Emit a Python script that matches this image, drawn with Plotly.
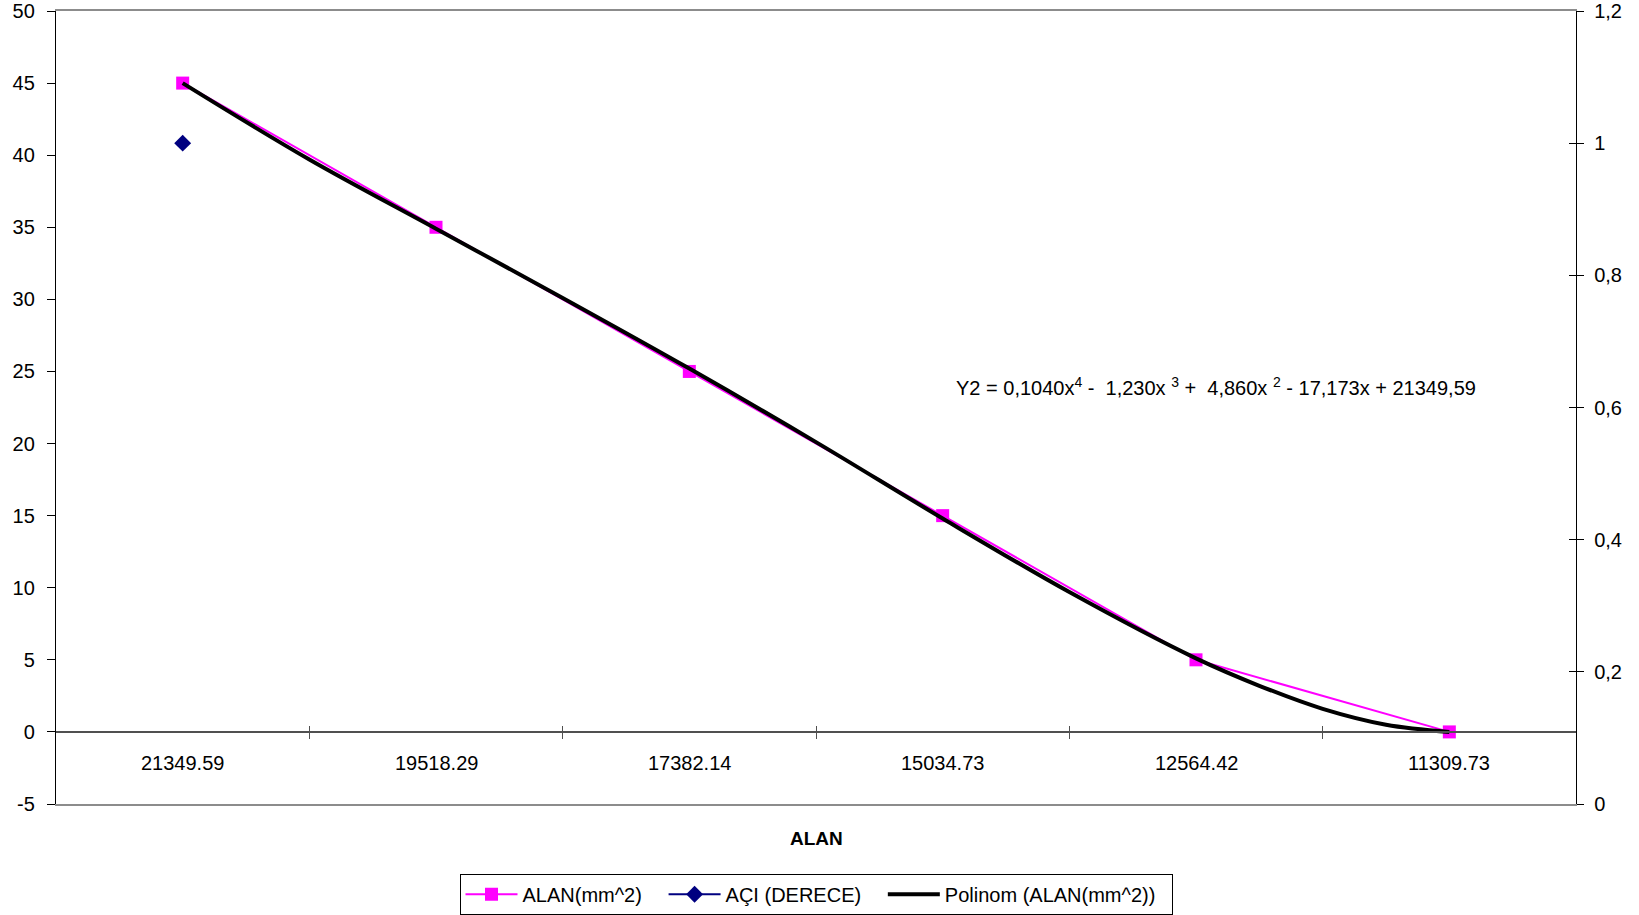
import plotly.graph_objects as go

# Category labels (x axis) and series values
categories = ["21349.59", "19518.29", "17382.14", "15034.73", "12564.42", "11309.73"]
alan = [45, 35, 25, 15, 5, 0]
aci = [1, None, None, None, None, None]

# Polynomial trendline sampled along the category positions
trend_x = [1, 1.5, 2, 2.5, 3, 3.5, 4, 4.5, 5, 5.25, 5.5, 5.75, 6]
trend_y = [45, 39.7, 34.9, 30.1, 25.2, 20.1, 14.8, 9.7, 5.1, 3.2, 1.6, 0.5, 0]

left_ticks = list(range(-5, 55, 5))
left_ticktext = [str(v) for v in left_ticks]
right_ticks = [0, 0.2, 0.4, 0.6, 0.8, 1.0, 1.2]
right_ticktext = ["0", "0,2", "0,4", "0,6", "0,8", "1", "1,2"]

pos = list(range(1, len(categories) + 1))
bounds = [p + 0.5 for p in pos[:-1]]

FONT = "Liberation Sans, Arial, sans-serif"
PAD = "&nbsp;" * 3  # extra room after each legend entry

fig = go.Figure()

fig.add_trace(go.Scatter(
    x=pos, y=alan, name="ALAN(mm^2)" + PAD, mode="lines+markers",
    line=dict(color="#FF00FF", width=2),
    marker=dict(symbol="square", size=13, color="#FF00FF"),
    xaxis="x", yaxis="y",
))
fig.add_trace(go.Scatter(
    x=pos, y=aci, name="AÇI (DERECE)" + PAD, mode="lines+markers",
    line=dict(color="#000080", width=2),
    marker=dict(symbol="diamond", size=13, color="#000080"),
    xaxis="x", yaxis="y2",
))
fig.add_trace(go.Scatter(
    x=trend_x, y=trend_y, name="Polinom (ALAN(mm^2))" + "&nbsp;" * 2, mode="lines",
    line=dict(color="black", width=4, shape="spline", smoothing=1.0),
    xaxis="x", yaxis="y",
))

# empty helper traces so the overlay axes (extra ticks, border) get drawn
for xa, ya in [("x2", "y"), ("x3", "y"), ("x", "y3")]:
    fig.add_trace(go.Scatter(x=[], y=[], xaxis=xa, yaxis=ya,
                             showlegend=False, hoverinfo="skip"))

xrange = [0.5, len(categories) + 0.5]
zero_pos = (0 - left_ticks[0]) / (left_ticks[-1] - left_ticks[0])

# category labels between the zero line and the bottom of the plot
annotations = [
    dict(x=p, y=-2.15, xref="x", yref="y", text=c, showarrow=False,
         font=dict(size=20, color="black", family=FONT))
    for p, c in zip(pos, categories)
]
annotations.append(dict(
    x=0.5, y=-0.044, xref="paper", yref="paper", text="<b>ALAN</b>",
    showarrow=False, yanchor="middle",
    font=dict(size=19, color="black", family=FONT)))
annotations.append(dict(
    x=0.591, y=0.526, xref="paper", yref="paper", xanchor="left", yanchor="middle",
    text="Y2 = 0,1040x<sup>4</sup> -&nbsp;&nbsp;1,230x <sup>3</sup> +&nbsp;&nbsp;4,860x <sup>2</sup> - 17,173x + 21349,59",
    showarrow=False, font=dict(size=20, color="black", family=FONT)))

fig.update_layout(
    width=1639, height=915,
    margin=dict(l=56, r=63, t=11, b=111, autoexpand=False),
    paper_bgcolor="white", plot_bgcolor="white",
    font=dict(family=FONT, size=20, color="black"),
    showlegend=True,
    legend=dict(
        orientation="h", x=0.5, xanchor="center", y=-0.088, yanchor="top",
        bordercolor="black", borderwidth=1, font=dict(size=20, family=FONT),
        bgcolor="white", itemwidth=52,
    ),
    annotations=annotations,
    # axis along y = 0 with boundary ticks below
    xaxis=dict(
        domain=[0, 1], range=xrange, anchor="free", position=zero_pos,
        showline=True, linecolor="#505050", linewidth=1.5,
        tickvals=bounds, ticks="outside", ticklen=6, tickcolor="#505050",
        tickwidth=1.2, showticklabels=False, showgrid=False, zeroline=False,
    ),
    # same boundary ticks drawn above the zero line
    xaxis2=dict(
        overlaying="x", range=xrange, anchor="free", position=zero_pos,
        showline=False, tickvals=bounds, ticks="inside", ticklen=6,
        tickcolor="#505050", tickwidth=1.2, showticklabels=False,
        showgrid=False, zeroline=False,
    ),
    # grey plot-area border (bottom and top)
    xaxis3=dict(
        overlaying="x", range=xrange, anchor="y", side="bottom",
        showline=True, linecolor="#8c8c8c", linewidth=2, mirror=True,
        ticks="", showticklabels=False, showgrid=False, zeroline=False,
    ),
    yaxis=dict(
        range=[left_ticks[0], left_ticks[-1]], tickvals=left_ticks,
        ticktext=left_ticktext,
        ticks="outside", ticklen=8, tickcolor="black", tickwidth=1.2,
        showline=True, linecolor="black", linewidth=1.3,
        showgrid=False, zeroline=False, anchor="x",
        tickfont=dict(size=20, color="black", family=FONT),
        ticklabelstandoff=8,
    ),
    yaxis2=dict(
        overlaying="y", side="right", anchor="x",
        range=[0, 1.2], tickvals=right_ticks, ticktext=right_ticktext,
        ticks="outside", ticklen=7, tickcolor="black", tickwidth=1.2,
        showline=True, linecolor="black", linewidth=1.3,
        showgrid=False, zeroline=False,
        tickfont=dict(size=20, color="black", family=FONT),
        ticklabelstandoff=6,
    ),
    yaxis3=dict(
        overlaying="y", side="right", anchor="x",
        range=[0, 1.2], tickvals=right_ticks, ticks="inside", ticklen=7,
        tickcolor="black", tickwidth=1.2, showline=False,
        showticklabels=False, showgrid=False, zeroline=False,
    ),
)

fig.write_html("out.html")
